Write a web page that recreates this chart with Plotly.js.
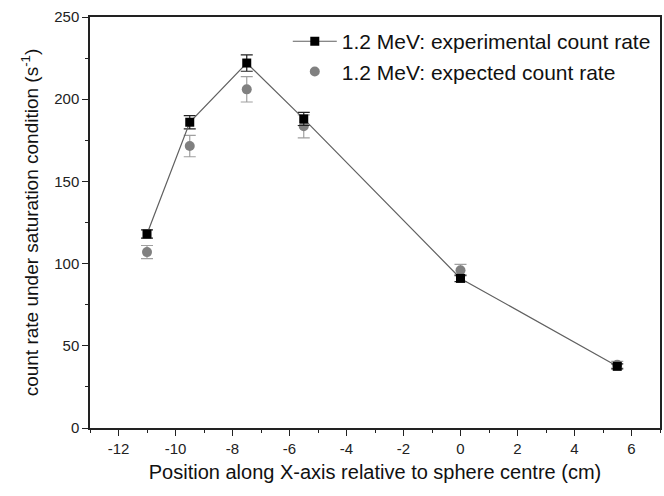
<!DOCTYPE html>
<html><head><meta charset="utf-8">
<script src="https://cdn.plot.ly/plotly-3.0.1.min.js"></script>
<style>html,body{margin:0;padding:0;background:#fff}</style>
</head><body>
<div id="chart" style="width:664px;height:496px"></div>
<script>
const positions = [-11, -9.5, -7.5, -5.5, 0, 5.5];
const experimental = [118, 186, 222, 188, 91, 37.5];
const experimentalErr = [2.5, 4, 5, 4, 2, 1.5];
const expected = [107, 171.5, 206, 183.5, 96, 38.5];
const expectedErr = [4, 6.5, 7.7, 7, 3.5, 2];
const xTicks = [-12, -10, -8, -6, -4, -2, 0, 2, 4, 6];
const yTicks = [0, 50, 100, 150, 200, 250];

const traces = [
  {
    x: positions, y: expected, name: '1.2 MeV: expected count rate',
    type: 'scatter', mode: 'markers',
    marker: {symbol: 'circle', size: 10, color: '#808080'},
    error_y: {type: 'data', array: expectedErr, visible: true, color: '#a0a0a0', thickness: 1.2, width: 6}
  },
  {
    x: positions, y: experimental, name: '1.2 MeV: experimental count rate',
    type: 'scatter', mode: 'lines+markers',
    line: {color: '#606060', width: 1.2},
    marker: {symbol: 'square', size: 9, color: '#000000'},
    error_y: {type: 'data', array: experimentalErr, visible: true, color: '#222222', thickness: 1.2, width: 6}
  }
];

const FONT = 'Liberation Sans, Arial, sans-serif';
const axisFont = {family: FONT, size: 15, color: '#222'};
const layout = {
  width: 664, height: 496,
  margin: {l: 90, r: 4, t: 17, b: 68},
  paper_bgcolor: '#fff', plot_bgcolor: '#fff',
  showlegend: true,
  legend: {x: 0.347, y: 0.99, xanchor: 'left', yanchor: 'top', traceorder: 'reversed',
    bgcolor: 'rgba(0,0,0,0)', font: {family: FONT, size: 21, color: '#111'},
    itemwidth: 44, tracegroupgap: 0},
  xaxis: {
    range: [-13, 7], tickmode: 'array', tickvals: xTicks, ticktext: xTicks.map(String),
    ticks: 'outside', ticklen: 6, tickwidth: 1.2, tickcolor: '#222',
    minor: {dtick: 1, ticks: 'outside', ticklen: 3, tickwidth: 1, tickcolor: '#222'},
    showline: true, linecolor: '#222', linewidth: 1.5, mirror: true,
    showgrid: false, zeroline: false, tickfont: axisFont,
    title: {text: 'Position along X-axis relative to sphere centre (cm)', font: {family: FONT, size: 20, color: '#111'}, standoff: 9}
  },
  yaxis: {
    range: [0, 250], tickmode: 'array', tickvals: yTicks, ticktext: yTicks.map(String),
    ticks: 'outside', ticklen: 6, tickwidth: 1.2, tickcolor: '#222',
    minor: {dtick: 25, ticks: 'outside', ticklen: 3, tickwidth: 1, tickcolor: '#222'},
    showline: true, linecolor: '#222', linewidth: 1.5, mirror: true,
    showgrid: false, zeroline: false, tickfont: axisFont,
    title: {text: 'count rate under saturation condition (s<sup>-1</sup>)', font: {family: FONT, size: 19, color: '#111'}, standoff: 11}
  }
};
Plotly.newPlot('chart', traces, layout, {displayModeBar: false});
</script>
</body></html>
